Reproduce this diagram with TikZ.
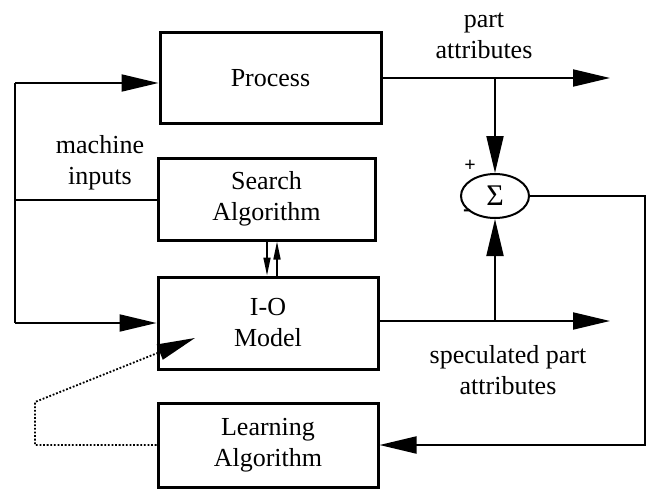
\documentclass[tikz,border=0pt]{standalone}
\usepackage{fontspec}
\setmainfont{Liberation Serif}
\usetikzlibrary{arrows.meta,shapes.geometric}
\begin{document}
\begin{tikzpicture}[x=1pt,y=-1pt,
  txt/.style={font=\fontsize{26}{31}\selectfont, align=center},
  box/.style={draw, line width=3pt, inner sep=0pt, txt},
  conn/.style={line width=2pt},
  arr/.style={conn, -{Triangle[length=37pt,width=17pt]}},
  small/.style={line width=1.6pt, -{Triangle[length=18pt,width=7pt]}},
  dotline/.style={line width=1.8pt, dash pattern=on 1.8pt off 1.8pt, -{Triangle[length=38pt,width=16pt]}}]
\useasboundingbox (0,0) rectangle (651,495);

% boxes
\node[box, minimum width=221pt, minimum height=90pt] (proc) at (270.5,78) {Process};
\node[box, minimum width=217pt, minimum height=82pt] (srch) at (266.5,199) {Search\\Algorithm};
\node[box, minimum width=220pt, minimum height=92pt] (io) at (268,323) {I-O\\Model};
\node[box, minimum width=220pt, minimum height=84pt] (learn) at (268,445) {Learning\\Algorithm};
\node[draw, ellipse, line width=2pt, minimum width=68pt, minimum height=44pt, inner sep=0pt,
      font=\fontsize{30}{30}\selectfont] (sig) at (495,196) {Σ};

% labels
\node[txt] (lpa) at (484,36) {part\\attributes};
\node[txt] (lmi) at (100,163) {machine\\inputs};
\node[txt] (lsp) at (508,370) {speculated part\\attributes};
\node[font=\fontsize{20}{20}\selectfont\bfseries] (lplus) at (470,166) {+};
\node[font=\fontsize{24}{24}\selectfont\bfseries] (lminus) at (467,213) {-};

% coordinates
\coordinate (pout) at (610,78);
\coordinate (pb) at (495,78);
\coordinate (iout) at (610,321);
\coordinate (ib) at (495,321);
\coordinate (lt) at (15,83);
\coordinate (lm) at (15,200);
\coordinate (lb) at (15,323);
\coordinate (sr) at (645,196);
\coordinate (d1) at (35,445);
\coordinate (d2) at (35,402);
\coordinate (d3) at (195,338);

% process output and branch
\draw[arr] (proc.east |- pout) -- (pout);
\draw[arr] (pb) -- (sig.north);
% I-O output and branch
\draw[arr] (io.east |- iout) -- (iout);
\draw[arr] (ib) -- (sig.south);
% sigma to learning
\draw[arr] (sig.east) -- (sr) |- (learn.east);
% machine inputs
\draw[conn] (lt) -- (lb);
\draw[arr] (lt) -- (lt -| proc.west);
\draw[arr] (lb) -- (lb -| io.west);
\draw[conn] (lm) -- (lm -| srch.west);
% search <-> model
\draw[small] ([xshift=0.5pt]srch.south) -- ([xshift=0.5pt]srch.south |- io.north);
\draw[small] ([xshift=10.5pt]srch.south |- io.north) -- ([xshift=10.5pt]srch.south);
% learning to model (dotted)
\draw[dotline] (learn.west) -- (d1) -- (d2) -- (d3);
\end{tikzpicture}
\end{document}
